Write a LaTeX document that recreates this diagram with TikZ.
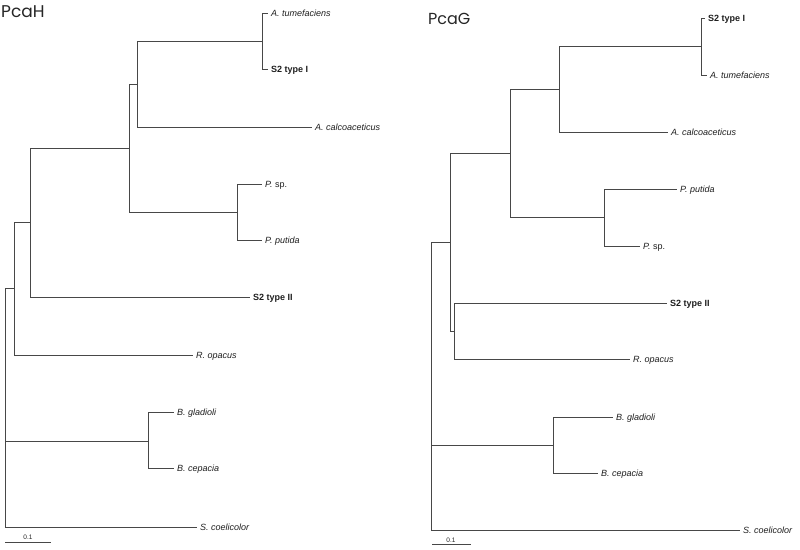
\documentclass[tikz,border=0pt]{standalone}
\usepackage{fontspec}
\setmainfont{Liberation Sans}
\newfontfamily\titlefont{Poppins}
\begin{document}
\begin{tikzpicture}[x=1pt,y=-1pt,
  br/.style={draw=black!72, line width=0.7pt},
  sp/.style={font=\itshape\fontsize{9}{10}\selectfont, anchor=west, inner xsep=3pt, inner ysep=0pt, text height=6.5pt, text depth=0pt, text=black!88},
  s2/.style={sp, font=\bfseries\fontsize{9}{10}\selectfont},
  ttl/.style={font=\titlefont\fontsize{17}{18}\selectfont, anchor=base west, inner sep=0pt, text=black!85},
  scl/.style={font=\fontsize{6.5}{7}\selectfont, inner sep=0pt, text=black!85}]
\useasboundingbox (0,0) rectangle (800,549);
\fill[white] (0,0) rectangle (800,549);

% ---------------- PcaH (left) ----------------
\node[ttl] (tH) at (1,17) {PcaH};
\node[sp] (Latum) at (268,13) {A. tumefaciens};
\node[s2] (Ls2i) at (268,69) {S2 type I};
\node[sp] (Lacal) at (312,127) {A. calcoaceticus};
\node[sp] (Lpsp) at (262,184) {P. \textup{sp.}};
\node[sp] (Lpput) at (262,240) {P. putida};
\node[s2] (Ls2ii) at (250,297) {S2 type II};
\node[sp] (Lropa) at (193,355) {R. opacus};
\node[sp] (Lbgla) at (174,412) {B. gladioli};
\node[sp] (Lbcep) at (174,468) {B. cepacia};
\node[sp] (Lscoe) at (197,527) {S. coelicolor};

\coordinate (Ln1) at (262,41);
\coordinate (Ln2) at (137,84);
\coordinate (Ln3) at (237,212);
\coordinate (Ln4) at (129,148);
\coordinate (Ln5) at (30,222);
\coordinate (Ln6) at (14,288);
\coordinate (Ln7) at (148,441);
\coordinate (Lroot) at (5,407);

\draw[br] (Ln1) |- (Latum.west) (Ln1) |- (Ls2i.west);
\draw[br] (Ln2) |- (Ln1) (Ln2) |- (Lacal.west);
\draw[br] (Ln3) |- (Lpsp.west) (Ln3) |- (Lpput.west);
\draw[br] (Ln4) |- (Ln2) (Ln4) |- (Ln3);
\draw[br] (Ln5) |- (Ln4) (Ln5) |- (Ls2ii.west);
\draw[br] (Ln6) |- (Ln5) (Ln6) |- (Lropa.west);
\draw[br] (Ln7) |- (Lbgla.west) (Ln7) |- (Lbcep.west);
\draw[br] (Lroot) |- (Ln6) (Lroot) |- (Ln7) (Lroot) |- (Lscoe.west);

\coordinate (LsA) at (5,542);
\coordinate (LsB) at (51,542);
\draw[br] (LsA) -- (LsB);
\node[scl] (Lsl) at (28,537.5) {0.1};

% ---------------- PcaG (right) ----------------
\node[ttl, font=\titlefont\fontsize{16}{17}\selectfont] (tG) at (428,24) {PcaG};
\node[s2] (Rs2i) at (705,18) {S2 type I};
\node[sp] (Ratum) at (707,75) {A. tumefaciens};
\node[sp] (Racal) at (668,132) {A. calcoaceticus};
\node[sp] (Rpput) at (677,189) {P. putida};
\node[sp] (Rpsp) at (640,246) {P. \textup{sp.}};
\node[s2] (Rs2ii) at (667,303) {S2 type II};
\node[sp] (Rropa) at (630,359) {R. opacus};
\node[sp] (Rbgla) at (613,417) {B. gladioli};
\node[sp] (Rbcep) at (598,473) {B. cepacia};
\node[sp] (Rscoe) at (740,530) {S. coelicolor};

\coordinate (Rm1) at (701,46.5);
\coordinate (Rm2) at (559,89);
\coordinate (Rm3) at (604,217.5);
\coordinate (Rm4) at (510,153);
\coordinate (Rm5) at (454,331);
\coordinate (Rm6) at (450,242);
\coordinate (Rm7) at (553,445);
\coordinate (Rroot) at (431,400);

\draw[br] (Rm1) |- (Rs2i.west) (Rm1) |- (Ratum.west);
\draw[br] (Rm2) |- (Rm1) (Rm2) |- (Racal.west);
\draw[br] (Rm3) |- (Rpput.west) (Rm3) |- (Rpsp.west);
\draw[br] (Rm4) |- (Rm2) (Rm4) |- (Rm3);
\draw[br] (Rm5) |- (Rs2ii.west) (Rm5) |- (Rropa.west);
\draw[br] (Rm6) |- (Rm4) (Rm6) |- (Rm5);
\draw[br] (Rm7) |- (Rbgla.west) (Rm7) |- (Rbcep.west);
\draw[br] (Rroot) |- (Rm6) (Rroot) |- (Rm7) (Rroot) |- (Rscoe.west);

\coordinate (RsA) at (432,544);
\coordinate (RsB) at (471,544);
\draw[br] (RsA) -- (RsB);
\node[scl] (Rsl) at (451,540.5) {0.1};
\end{tikzpicture}
\end{document}
